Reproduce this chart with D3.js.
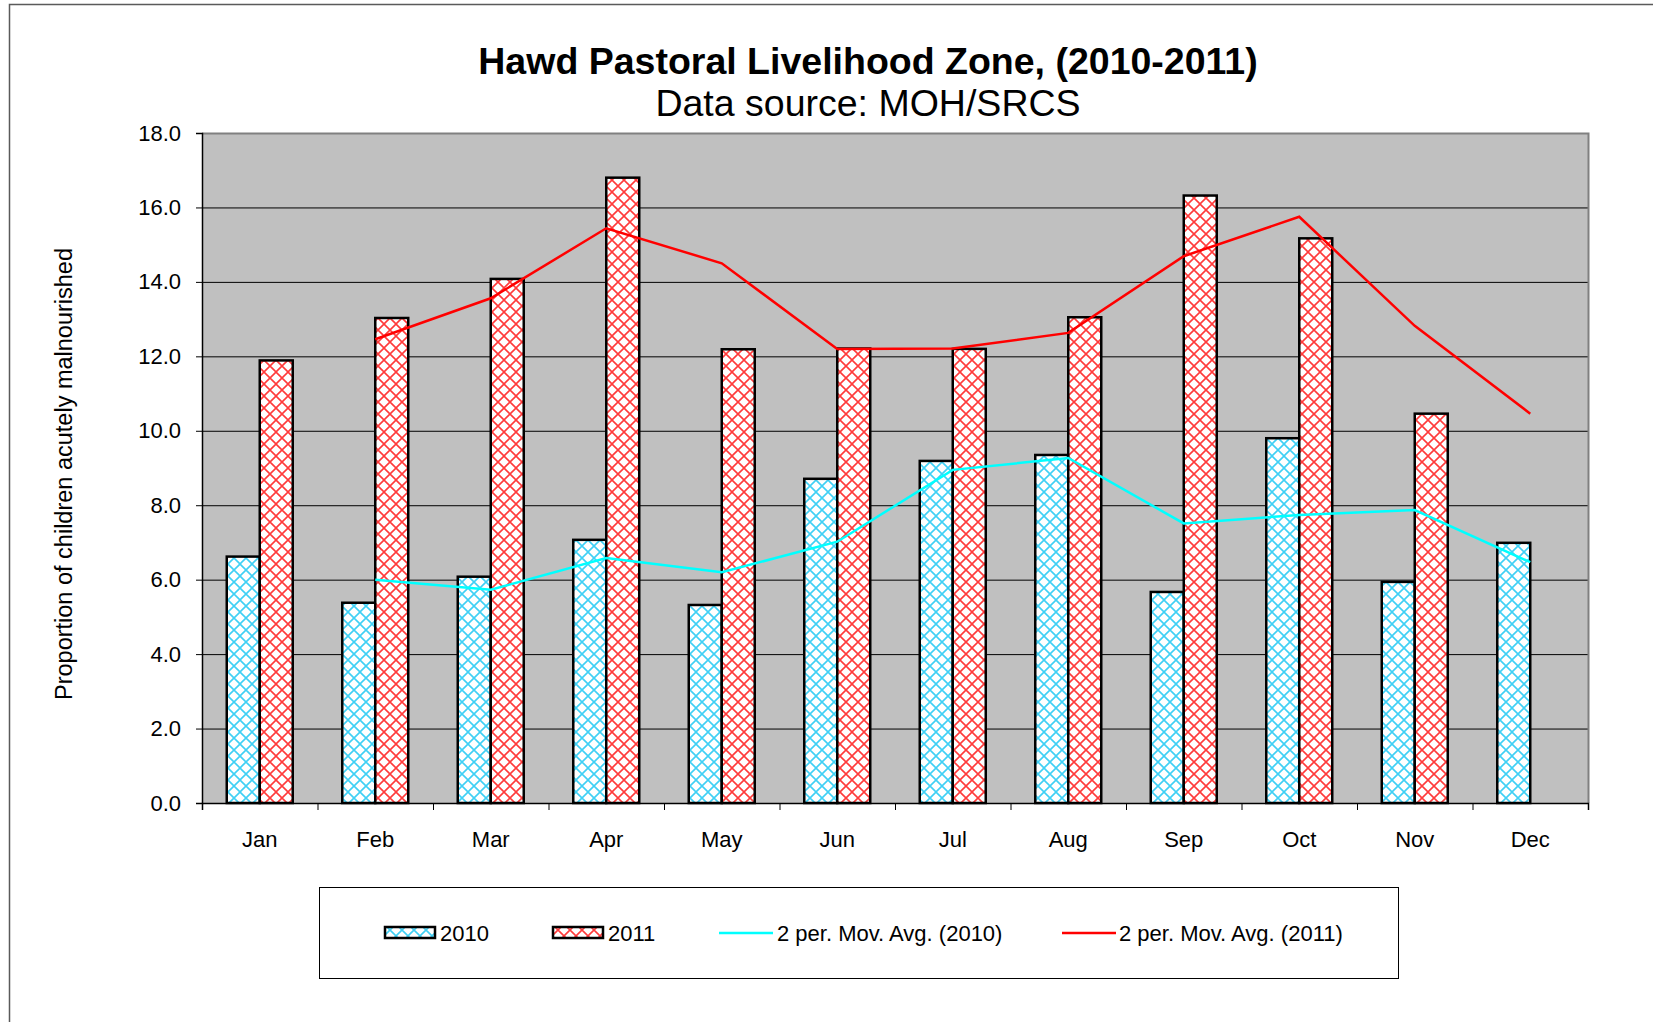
<!DOCTYPE html>
<html>
<head>
<meta charset="utf-8">
<script src="https://cdn.jsdelivr.net/npm/d3@7"></script>
<style>
    body { margin: 0; background: #ffffff; }
    svg text { font-family: "Liberation Sans", Arial, sans-serif; fill: #000000; }
</style>
</head>
<body>
<div id="chart"></div>
<script>
// Hawd Pastoral Livelihood Zone - monthly acute malnutrition, 2010 vs 2011

var months = ["Jan", "Feb", "Mar", "Apr", "May", "Jun", "Jul", "Aug", "Sep", "Oct", "Nov", "Dec"];
var seriesNames = ["2010", "2011"];
var values_2010 = [6.62, 5.38, 6.08, 7.07, 5.32, 8.71, 9.19, 9.35, 5.67, 9.80, 5.94, 6.99];
var values_2011 = [11.89, 13.03, 14.08, 16.80, 12.19, 12.21, 12.20, 13.05, 16.32, 15.17, 10.46, null];
// 2 period moving averages as drawn (no point for Jan)
var movAvg_2010 = [null, 6.00, 5.73, 6.58, 6.20, 7.02, 8.95, 9.27, 7.51, 7.74, 7.87, 6.47];
var movAvg_2011 = [null, 12.46, 13.56, 15.44, 14.50, 12.20, 12.21, 12.63, 14.69, 15.75, 12.82, 10.46];
var yTicks = [0, 2, 4, 6, 8, 10, 12, 14, 16, 18];

var width = 1653;
var height = 1022;
var plot = { left: 202, top: 133, right: 1588, bottom: 803 };

var svg = d3.select("#chart").append("svg")
    .attr("width", width)
    .attr("height", height);

// hatch patterns for the bars
var defs = svg.append("defs");
function make_Pattern(id, colour)
{
    var p = defs.append("pattern")
        .attr("id", id)
        .attr("patternUnits", "userSpaceOnUse")
        .attr("width", 12)
        .attr("height", 12);
    p.append("rect").attr("width", 12).attr("height", 12).attr("fill", "#ffffff");
    p.append("path")
        .attr("d", "M0,0 L12,12 M12,0 L0,12")
        .attr("stroke", colour)
        .attr("stroke-width", 1.6)
        .attr("fill", "none");
}
make_Pattern("hatch2010", "#3fd0f5");
make_Pattern("hatch2011", "#ff3b3b");
var fills = { "2010": "url(#hatch2010)", "2011": "url(#hatch2011)" };

// outer chart border
svg.append("rect")
    .attr("x", 9.5)
    .attr("y", 4.5)
    .attr("width", 1700)
    .attr("height", 1100)
    .attr("fill", "none")
    .attr("stroke", "#5a5a5a")
    .attr("stroke-width", 1.5);

// titles
svg.append("text")
    .attr("x", 868)
    .attr("y", 74)
    .attr("text-anchor", "middle")
    .style("font-size", "37.5px")
    .style("font-weight", "bold")
    .text("Hawd Pastoral Livelihood Zone, (2010-2011)");

svg.append("text")
    .attr("x", 868)
    .attr("y", 116)
    .attr("text-anchor", "middle")
    .style("font-size", "37.5px")
    .text("Data source: MOH/SRCS");

// scales
var x = d3.scaleBand()
    .domain(months)
    .range([plot.left, plot.right])
    .padding(0);

var xSeries = d3.scaleBand()
    .domain(seriesNames)
    .range([0, x.bandwidth()])
    .paddingInner(0)
    .paddingOuter(0.75);

var y = d3.scaleLinear()
    .domain([0, 18])
    .range([plot.bottom, plot.top]);

// plot area
svg.append("rect")
    .attr("x", plot.left)
    .attr("y", plot.top)
    .attr("width", plot.right - plot.left)
    .attr("height", plot.bottom - plot.top)
    .attr("fill", "#c0c0c0");

// gridlines
svg.append("g")
    .selectAll("line")
    .data(yTicks.slice(1, -1))
    .enter().append("line")
    .attr("x1", plot.left)
    .attr("x2", plot.right)
    .attr("y1", function(d) { return y(d) + 0.5; })
    .attr("y2", function(d) { return y(d) + 0.5; })
    .attr("stroke", "#000000")
    .attr("stroke-width", 1);

// top and right border of the plot area
svg.append("path")
    .attr("d", "M" + plot.left + "," + (plot.top + 0.5) + " H" + (plot.right + 0.5) + " V" + plot.bottom)
    .attr("fill", "none")
    .attr("stroke", "#808080")
    .attr("stroke-width", 2);

// bars
var barData = [];
for (var i = 0; i < months.length; i++)
{
    barData.push({ month: months[i], series: "2010", value: values_2010[i] });
    if (values_2011[i] !== null)
    {
        barData.push({ month: months[i], series: "2011", value: values_2011[i] });
    }
}

svg.append("g")
    .selectAll("rect")
    .data(barData)
    .enter().append("rect")
    .attr("x", function(d) { return x(d.month) + xSeries(d.series); })
    .attr("y", function(d) { return y(d.value); })
    .attr("width", xSeries.bandwidth())
    .attr("height", function(d) { return y(0) - y(d.value); })
    .attr("fill", function(d) { return fills[d.series]; })
    .attr("stroke", "#000000")
    .attr("stroke-width", 2.5);

// moving average lines
var line = d3.line()
    .defined(function(d) { return d.value !== null; })
    .x(function(d) { return x(d.month) + x.bandwidth() / 2; })
    .y(function(d) { return y(d.value); });

function to_Points(arr)
{
    return months.map(function(m, i) { return { month: m, value: arr[i] }; });
}

svg.append("path")
    .datum(to_Points(movAvg_2010))
    .attr("d", line)
    .attr("fill", "none")
    .attr("stroke", "#00ffff")
    .attr("stroke-width", 2.5);

svg.append("path")
    .datum(to_Points(movAvg_2011))
    .attr("d", line)
    .attr("fill", "none")
    .attr("stroke", "#ff0000")
    .attr("stroke-width", 2.5);

// y axis
var yAxis = svg.append("g")
    .attr("transform", "translate(" + plot.left + ",0)")
    .call(d3.axisLeft(y).tickValues(yTicks).tickFormat(d3.format(".1f")).tickSize(6).tickPadding(15));
yAxis.select(".domain").attr("stroke", "#000000").attr("stroke-width", 1.5);
yAxis.selectAll("text").style("font-size", "22px");

// x axis: labels centred, ticks between months
var xAxis = svg.append("g")
    .attr("transform", "translate(0," + plot.bottom + ")")
    .call(d3.axisBottom(x).tickSize(0).tickPadding(28));
xAxis.select(".domain").remove();
xAxis.selectAll("text").style("font-size", "22px");

var xEdges = d3.scaleLinear().domain([0, months.length]).range([plot.left, plot.right]);
var xTicks = svg.append("g")
    .attr("transform", "translate(0," + plot.bottom + ")")
    .call(d3.axisBottom(xEdges).tickValues(d3.range(months.length + 1)).tickFormat("").tickSize(7));
xTicks.select(".domain").attr("stroke", "#000000").attr("stroke-width", 1.5);

// y axis title
svg.append("text")
    .attr("transform", "translate(72,474) rotate(-90)")
    .attr("text-anchor", "middle")
    .style("font-size", "23.5px")
    .text("Proportion of children acutely malnourished");

// legend
var legend = svg.append("g");
legend.append("rect")
    .attr("x", 319.5)
    .attr("y", 887.5)
    .attr("width", 1079)
    .attr("height", 91)
    .attr("fill", "#ffffff")
    .attr("stroke", "#000000")
    .attr("stroke-width", 1);

var legendItems = [
    { type: "bar", key: "2010", label: "2010", x: 385, textX: 440 },
    { type: "bar", key: "2011", label: "2011", x: 553, textX: 608 },
    { type: "line", colour: "#00ffff", label: "2 per. Mov. Avg. (2010)", x: 719, textX: 777 },
    { type: "line", colour: "#ff0000", label: "2 per. Mov. Avg. (2011)", x: 1062, textX: 1119 }
];
var legendY = 933;

legendItems.forEach(function(item)
{
    if (item.type === "bar")
    {
        legend.append("rect")
            .attr("x", item.x)
            .attr("y", legendY - 6)
            .attr("width", 50)
            .attr("height", 11)
            .attr("fill", fills[item.key])
            .attr("stroke", "#000000")
            .attr("stroke-width", 2.5);
    }
    else
    {
        legend.append("line")
            .attr("x1", item.x)
            .attr("x2", item.x + 54)
            .attr("y1", legendY)
            .attr("y2", legendY)
            .attr("stroke", item.colour)
            .attr("stroke-width", 2.5);
    }
    legend.append("text")
        .attr("x", item.textX)
        .attr("y", legendY)
        .attr("dy", "0.35em")
        .style("font-size", "22px")
        .text(item.label);
});
</script>
</body>
</html>
